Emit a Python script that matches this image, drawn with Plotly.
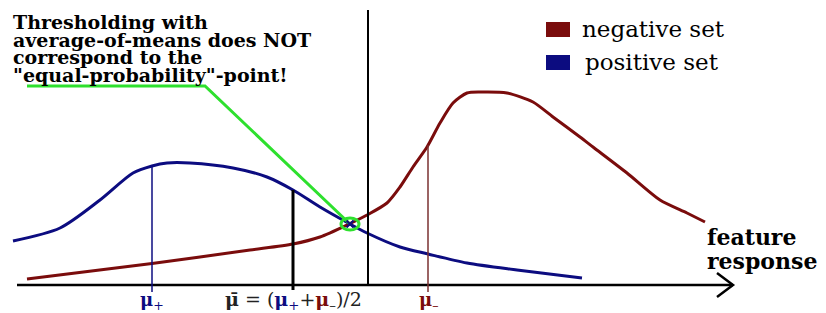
import numpy as np
import plotly.graph_objects as go

# ---- data (feature response vs. density, arbitrary units) ----
blue_x = [13, 60, 100, 133, 152, 167, 190, 233, 267, 293, 320, 350, 367, 400, 428, 467, 517, 582]
blue_y = [44, 57, 85, 112, 119, 122, 122, 117, 108, 95, 78, 61, 52, 38, 31, 22, 15, 7]

red_x = [27, 152, 250, 293, 320, 347, 367, 387, 400, 413, 427, 440, 453, 467, 480,
         507, 533, 553, 580, 593, 627, 660, 687, 705]
red_y = [6, 21.5, 35, 41, 48, 60, 70, 82, 98, 118, 138, 162, 182, 192, 193,
         192, 183, 168, 148, 138, 112, 85, 72, 63]

mu_plus = 152
mu_minus = 428
mu_bar = 293
equal_prob_x = 350
threshold_x = 368

legend_labels = ["negative set", "positive set"]
note_lines = ["Thresholding with", "average-of-means does NOT",
              "correspond to the", "\"equal-probability\"-point!"]

RED = "#7a0c0c"
BLUE = "#0c0c80"
GREEN = "#2ee02e"
SERIF = "DejaVu Serif"

fig = go.Figure()

def interp(xs, ys, x):
    return float(np.interp(x, xs, ys))

# axis line
fig.add_shape(type="line", x0=17, x1=733, y0=0, y1=0, line=dict(color="black", width=2.5))
fig.add_trace(go.Scatter(x=[717, 733, 717], y=[12, 0, -12], mode="lines",
                         line=dict(color="black", width=2.5), hoverinfo="skip"))

# vertical markers
fig.add_shape(type="line", x0=threshold_x, x1=threshold_x, y0=0, y1=275,
              line=dict(color="black", width=2))
fig.add_shape(type="line", x0=mu_plus, x1=mu_plus, y0=-7, y1=interp(blue_x, blue_y, mu_plus),
              line=dict(color=BLUE, width=1.5))
fig.add_shape(type="line", x0=mu_minus, x1=mu_minus, y0=-7, y1=interp(red_x, red_y, mu_minus),
              line=dict(color="#7a3030", width=1.5))
fig.add_shape(type="line", x0=mu_bar, x1=mu_bar, y0=-5, y1=interp(blue_x, blue_y, mu_bar),
              line=dict(color="black", width=3))

# curves
fig.add_trace(go.Scatter(x=red_x, y=red_y, mode="lines",
                         line=dict(color=RED, width=3, shape="spline", smoothing=0.7),
                         hoverinfo="skip"))
fig.add_trace(go.Scatter(x=blue_x, y=blue_y, mode="lines",
                         line=dict(color=BLUE, width=3, shape="spline", smoothing=0.8),
                         hoverinfo="skip"))

# green pointer
ey = interp(blue_x, blue_y, equal_prob_x)
fig.add_trace(go.Scatter(x=[27, 205, equal_prob_x], y=[199, 199, ey], mode="lines",
                         line=dict(color=GREEN, width=3), hoverinfo="skip"))
fig.add_shape(type="circle", x0=equal_prob_x - 9, x1=equal_prob_x + 9, y0=ey - 6, y1=ey + 6,
              line=dict(color=GREEN, width=3))
fig.add_trace(go.Scatter(x=[equal_prob_x], y=[ey], mode="markers",
                         marker=dict(symbol="x-thin", size=7, line=dict(color=BLUE, width=2)),
                         hoverinfo="skip"))

# note text
for i, t in enumerate(note_lines):
    fig.add_annotation(x=11, y=263 - 17.5 * i, xref="x", yref="y", text="<b>%s</b>" % t,
                       showarrow=False, xanchor="left", yanchor="middle",
                       font=dict(family=SERIF, size=19, color="black"))

# legend
for i, (lab, col) in enumerate(zip(legend_labels, [RED, BLUE])):
    yc = 255.5 - 33 * i
    fig.add_shape(type="rect", x0=546, x1=570, y0=yc - 7.5, y1=yc + 7.5,
                  fillcolor=col, line=dict(width=0))
    fig.add_annotation(x=580 + 3 * i, y=yc + 1, xref="x", yref="y", text=lab, showarrow=False,
                       xanchor="left", yanchor="middle",
                       font=dict(family=SERIF, size=23, color="black"))

# axis label
for i, t in enumerate(["feature", "response"]):
    fig.add_annotation(x=705, y=48 - 24 * i, xref="x", yref="y", text="<b>%s</b>" % t,
                       showarrow=False, xanchor="left", yanchor="middle",
                       font=dict(family=SERIF, size=22, color="black"))

# tick labels
fig.add_annotation(x=mu_plus, y=-15.5, text="<b>μ</b><sub>+</sub>", showarrow=False,
                   xanchor="center", yanchor="middle", font=dict(family=SERIF, size=18, color=BLUE))
fig.add_annotation(x=mu_minus, y=-15.5, text="<b>μ</b><sub>–</sub>", showarrow=False,
                   xanchor="center", yanchor="middle", font=dict(family=SERIF, size=18, color=RED))
fig.add_annotation(x=mu_bar, y=-15.5,
                   text=("<b>μ̄</b> = (<span style='color:%s'><b>μ</b><sub>+</sub></span>+"
                         "<span style='color:%s'><b>μ</b></span><sub>–</sub>)/2") % (BLUE, RED),
                   showarrow=False, xanchor="center", yanchor="middle",
                   font=dict(family=SERIF, size=19, color="#222222"))

fig.update_layout(width=826, height=313, autosize=False,
                  margin=dict(l=0, r=0, t=0, b=0, pad=0),
                  paper_bgcolor="white", plot_bgcolor="white", showlegend=False,
                  xaxis=dict(range=[0, 826], visible=False, fixedrange=True),
                  yaxis=dict(range=[-28, 285], visible=False, fixedrange=True))

fig.write_html("out.html", config={"displayModeBar": False},
               post_script="document.body.style.margin='0';document.body.style.overflow='hidden';")
